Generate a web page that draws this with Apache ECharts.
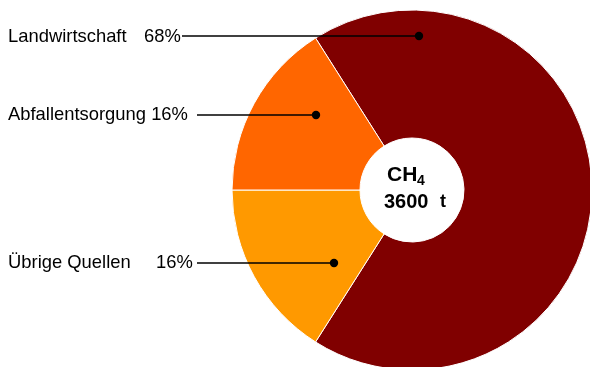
<!DOCTYPE html>
<html><head><meta charset="utf-8">
<script src="https://cdn.jsdelivr.net/npm/echarts@6/dist/echarts.min.js"></script>
<style>html,body{margin:0;padding:0;background:#fff}#c{width:590px;height:367px}</style>
</head><body><div id="c"></div>
<script>
var categories = ['Landwirtschaft', 'Übrige Quellen', 'Abfallentsorgung'];
var values = [68, 16, 16];
var percentLabels = ['68%', '16%', '16%'];
var colors = ['#800000', '#FF9900', '#FF6600'];
var centerGas = 'CH';
var centerSub = '4';
var centerTotal = '3600';
var centerUnit = 't';

var chart = echarts.init(document.getElementById('c'), null, {renderer: 'canvas'});
var font = '"Liberation Sans", Arial, sans-serif';
// annotation layout: name x, percent x (null = appended), text mid y, line start/end
var annot = [
  {tx: 8, px: 144, ty: 37, lx0: 182, lx1: 419, ly: 36},
  {tx: 8, px: 156, ty: 263, lx0: 197, lx1: 334, ly: 263},
  {tx: 8, px: null, ty: 115, lx0: 197, lx1: 316, ly: 115}
];
var graphics = [];
categories.forEach(function (c, i) {
  var a = annot[i];
  var txtFont = '18.4px ' + font;
  if (a.px === null) {
    graphics.push({type: 'text', z: 100, x: a.tx, y: a.ty,
      style: {text: c + ' ' + percentLabels[i], font: txtFont, fill: '#000', verticalAlign: 'middle'}});
  } else {
    graphics.push({type: 'text', z: 100, x: a.tx, y: a.ty,
      style: {text: c, font: txtFont, fill: '#000', verticalAlign: 'middle'}});
    graphics.push({type: 'text', z: 100, x: a.px, y: a.ty,
      style: {text: percentLabels[i], font: txtFont, fill: '#000', verticalAlign: 'middle'}});
  }
  graphics.push({type: 'line', z: 100, shape: {x1: a.lx0, y1: a.ly, x2: a.lx1, y2: a.ly},
    style: {stroke: '#000', lineWidth: 1.5}});
  graphics.push({type: 'circle', z: 101, shape: {cx: a.lx1, cy: a.ly, r: 4.2}, style: {fill: '#000'}});
});
graphics.push({type: 'text', z: 100, x: 387, y: 175,
  style: {text: centerGas, font: 'bold 21px ' + font, fill: '#000', verticalAlign: 'middle'}});
graphics.push({type: 'text', z: 100, x: 417, y: 181,
  style: {text: centerSub, font: 'bold 14px ' + font, fill: '#000', verticalAlign: 'middle'}});
graphics.push({type: 'text', z: 100, x: 384, y: 202,
  style: {text: centerTotal, font: 'bold 20px ' + font, fill: '#000', verticalAlign: 'middle'}});
graphics.push({type: 'text', z: 100, x: 440, y: 202,
  style: {text: centerUnit, font: 'bold 18px ' + font, fill: '#000', verticalAlign: 'middle'}});

chart.setOption({
  animation: false,
  backgroundColor: '#fff',
  series: [{
    type: 'pie',
    center: [412, 190],
    radius: [52, 180],
    startAngle: 122.4,
    clockwise: true,
    silent: true,
    label: {show: false},
    labelLine: {show: false},
    itemStyle: {borderColor: '#fff', borderWidth: 1},
    data: categories.map(function (c, i) {
      return {name: c, value: values[i], itemStyle: {color: colors[i]}};
    })
  }],
  graphic: graphics
});
</script></body></html>
